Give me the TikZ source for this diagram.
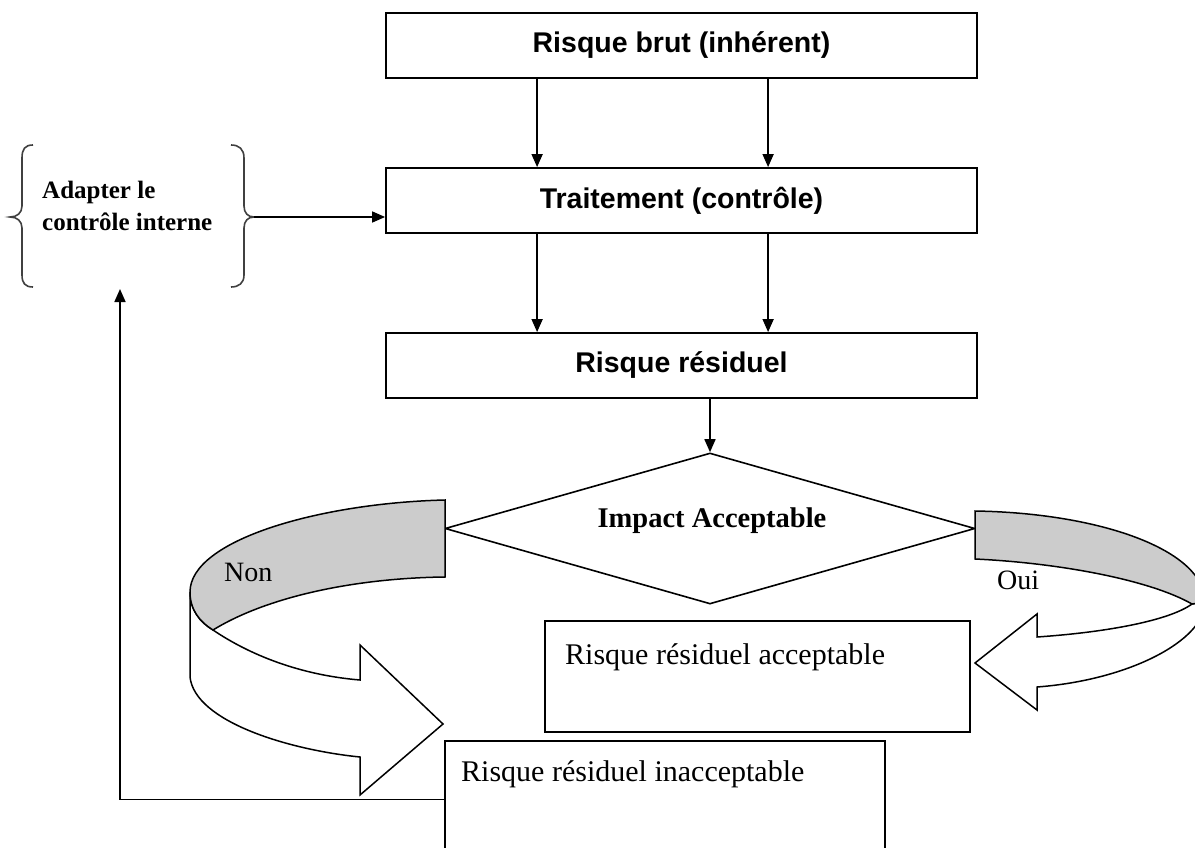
\documentclass[tikz,border=0pt]{standalone}
\usepackage{fontspec}
\setmainfont{Liberation Serif}
\newfontfamily\arialf{Liberation Sans}
\usetikzlibrary{arrows.meta,shapes.geometric}
\tikzset{
  box/.style={draw, line width=1.8pt, rectangle, inner sep=0pt, fill=white},
  boxtitle/.style={box, minimum width=591pt, minimum height=65pt, font=\arialf\bfseries\fontsize{28.5}{32}\selectfont},
  arr/.style={line width=1.6pt, -{Triangle[length=13pt,width=11pt]}},
  plain/.style={inner sep=0pt, font=\fontsize{30}{34}\selectfont},
  bandgray/.style={draw, line width=1.5pt, fill=black!20},
  bandwhite/.style={draw, line width=1.5pt, fill=white},
  brace/.style={draw, line width=1.6pt, black!75},
}
\begin{document}
\begin{tikzpicture}[x=1pt,y=-1pt]
\useasboundingbox[fill=white] (0,0) rectangle (1195,848);

% main boxes
\node[boxtitle] (b1) at (681.5,45.5) {Risque brut (inhérent)};
\node[boxtitle] (b2) at (681.5,200.5) {Traitement (contrôle)};
\node[boxtitle] (b3) at (681.5,365.5) {Risque résiduel};

% decision
\node[draw, line width=1.6pt, diamond, inner sep=0pt, minimum width=530pt, minimum height=151pt] (dia) at (710,528.5) {};
\node[inner sep=0pt, font=\bfseries\fontsize{28.5}{32}\selectfont] (diatext) at (712,521) {Impact Acceptable};

% outcome boxes
\node[box, minimum width=425pt, minimum height=111pt] (b4) at (757.5,676.5) {};
\node[plain, anchor=west] (b4text) at (565,657) {Risque résiduel acceptable};
\node[box, minimum width=440pt, minimum height=117pt] (b5) at (665,799.5) {};
\node[plain, anchor=west] (b5text) at (461,774) {Risque résiduel inacceptable};

% arrows between boxes
\draw[arr] ([xshift=152pt]b1.south west) -- ([xshift=152pt]b2.north west);
\draw[arr] ([xshift=383pt]b1.south west) -- ([xshift=383pt]b2.north west);
\draw[arr] ([xshift=152pt]b2.south west) -- ([xshift=152pt]b3.north west);
\draw[arr] ([xshift=383pt]b2.south west) -- ([xshift=383pt]b3.north west);
\draw[arr] (b3.south -| dia.north) -- (dia.north);

% brace group
\node[inner sep=0pt, anchor=west, align=left, font=\bfseries\fontsize{25}{32}\selectfont] (adapt) at (42,206) {Adapter le\\contrôle interne};
\coordinate (lbtip) at (10,217);
\coordinate (rbtip) at (254,217);
\draw[brace] (33,145) .. controls (25,145) and (22,149) .. (22,158) -- (22,206)
  .. controls (22,213) and (17,217) .. (lbtip)
  .. controls (17,217) and (22,221) .. (22,228) -- (22,275)
  .. controls (22,283) and (25,287) .. (33,287);
\draw[brace] (231,145) .. controls (239,145) and (244,149) .. (244,158) -- (244,206)
  .. controls (244,213) and (248,217) .. (rbtip)
  .. controls (248,217) and (244,221) .. (244,228) -- (244,275)
  .. controls (244,283) and (239,287) .. (231,287);
\draw[arr] (rbtip) -- (rbtip -| b2.west);

% feedback line
\coordinate (fb) at (120,289);
\draw[arr] (b5.west) -| (fb);

% left curved arrow (Non)
\draw[bandwhite] (190,592) -- (190,677) .. controls (195,722) and (290,750) .. (360,757)
  -- (360,795) -- (443,724) -- (360,645) -- (360,680)
  .. controls (300,675) and (250,655) .. (213,630)
  .. controls (200,622) and (190,610) .. (190,592) -- cycle;
\draw[bandgray] (445,500) .. controls (320,503) and (190,540) .. (190,592)
  .. controls (190,610) and (200,622) .. (213,630)
  .. controls (270,595) and (360,578) .. (445,577) -- cycle;
\node[plain, anchor=west, font=\fontsize{28}{32}\selectfont] (non) at (224,572) {Non};

% right curved arrow (Oui)
\draw[bandwhite] (1205,602) .. controls (1205,640) and (1130,680) .. (1037,687)
  -- (1037,710) -- (975,663) -- (1037,614) -- (1037,637)
  .. controls (1110,632) and (1170,620) .. (1192,604) -- cycle;
\draw[bandgray] (975,511) .. controls (1100,513) and (1205,550) .. (1205,602)
  -- (1192,604) .. controls (1150,580) and (1060,563) .. (975,559) -- cycle;
\node[plain, anchor=west, font=\fontsize{28}{32}\selectfont] (oui) at (997,580) {Oui};
\end{tikzpicture}
\end{document}
